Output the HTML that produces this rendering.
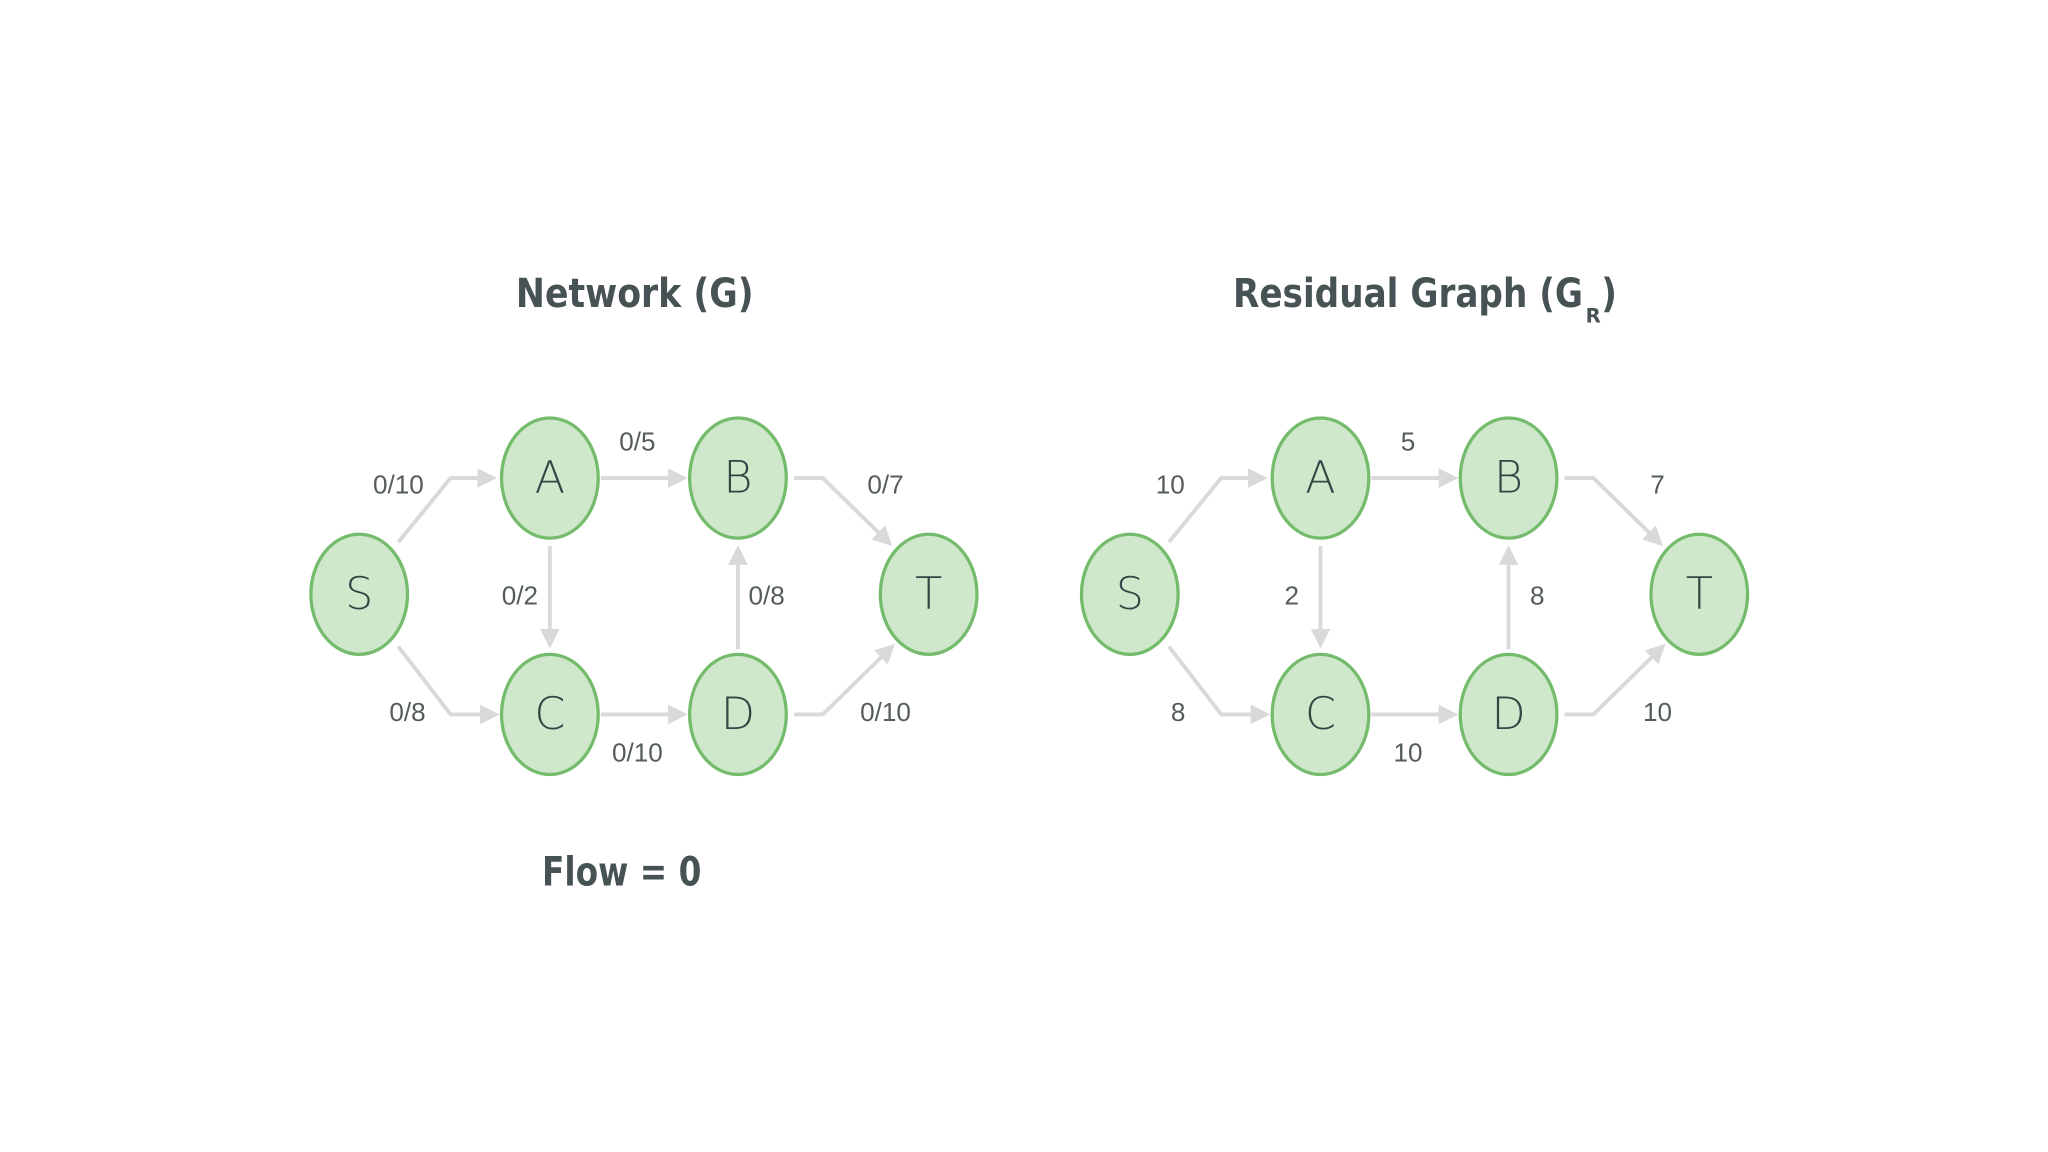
<!DOCTYPE html>
<html><head><meta charset="utf-8"><style>
html,body{margin:0;padding:0;background:#fff;}
svg{display:block;}
.n{fill:#cfe8cb;stroke:#74bb6c;stroke-width:2.5;}
.l{font-family:"DejaVu Sans","Liberation Sans",sans-serif;font-size:34px;fill:#344545;text-anchor:middle;dominant-baseline:central;font-weight:300;}
.e{fill:none;stroke:#d9d9d9;stroke-width:3;}
.t{font-family:"Liberation Sans Narrow","Liberation Sans",sans-serif;font-size:20px;fill:#555c5c;text-anchor:middle;dominant-baseline:central;}
.h{font-family:"DejaVu Sans","Liberation Sans",sans-serif;font-size:31px;font-weight:bold;fill:#465253;}
</style></head><body>
<svg width="2048" height="1152" viewBox="0 0 1568 882" xmlns="http://www.w3.org/2000/svg">
<defs>
<marker id="a" markerWidth="5" markerHeight="5" refX="3.5" refY="2.5" orient="auto" markerUnits="strokeWidth">
<path d="M0,0 L5,2.5 L0,5 z" fill="#d9d9d9"/></marker>
<g id="g">
<path class="e" d="M305,415 L345,366 L376,366" marker-end="url(#a)"/>
<path class="e" d="M305,495 L345,547 L378,547" marker-end="url(#a)"/>
<path class="e" d="M460,366 L522,366" marker-end="url(#a)"/>
<path class="e" d="M608,366 L630,366 L680,415" marker-end="url(#a)"/>
<path class="e" d="M460,547 L522,547" marker-end="url(#a)"/>
<path class="e" d="M608,547 L630,547 L682,496" marker-end="url(#a)"/>
<path class="e" d="M421,418 L421,492" marker-end="url(#a)"/>
<path class="e" d="M565,497 L565,422" marker-end="url(#a)"/>
<ellipse class="n" cx="275" cy="455" rx="37" ry="46"/>
<ellipse class="n" cx="421" cy="366" rx="37" ry="46"/>
<ellipse class="n" cx="565" cy="366" rx="37" ry="46"/>
<ellipse class="n" cx="711" cy="455" rx="37" ry="46"/>
<ellipse class="n" cx="421" cy="547" rx="37" ry="46"/>
<ellipse class="n" cx="565" cy="547" rx="37" ry="46"/>
<text class="l" x="275" y="455">S</text>
<text class="l" x="421" y="366">A</text>
<text class="l" x="565" y="366">B</text>
<text class="l" x="711" y="455">T</text>
<text class="l" x="421" y="547">C</text>
<text class="l" x="565" y="547">D</text>
</g>
</defs>
<use href="#g"/>
<use href="#g" transform="translate(590,0)"/>
<text class="t" x="305" y="371">0/10</text>
<text class="t" x="488" y="338">0/5</text>
<text class="t" x="678" y="371">0/7</text>
<text class="t" x="398" y="456">0/2</text>
<text class="t" x="587" y="456">0/8</text>
<text class="t" x="312" y="545">0/8</text>
<text class="t" x="488" y="576">0/10</text>
<text class="t" x="678" y="545">0/10</text>
<text class="t" x="896" y="371">10</text>
<text class="t" x="1078" y="338">5</text>
<text class="t" x="1269" y="371">7</text>
<text class="t" x="989" y="456">2</text>
<text class="t" x="1177" y="456">8</text>
<text class="t" x="902" y="545">8</text>
<text class="t" x="1078" y="576">10</text>
<text class="t" x="1269" y="545">10</text>
<text class="h" x="395" y="235" textLength="182" lengthAdjust="spacingAndGlyphs">Network (G)</text>
<text class="h" x="944" y="235" textLength="268" lengthAdjust="spacingAndGlyphs">Residual Graph (G</text>
<text class="h" x="1214" y="247" style="font-size:15px">R</text>
<text class="h" x="1226" y="235" textLength="12" lengthAdjust="spacingAndGlyphs">)</text>
<text class="h" x="415" y="678" textLength="122" lengthAdjust="spacingAndGlyphs">Flow = 0</text>
</svg>
</body></html>
